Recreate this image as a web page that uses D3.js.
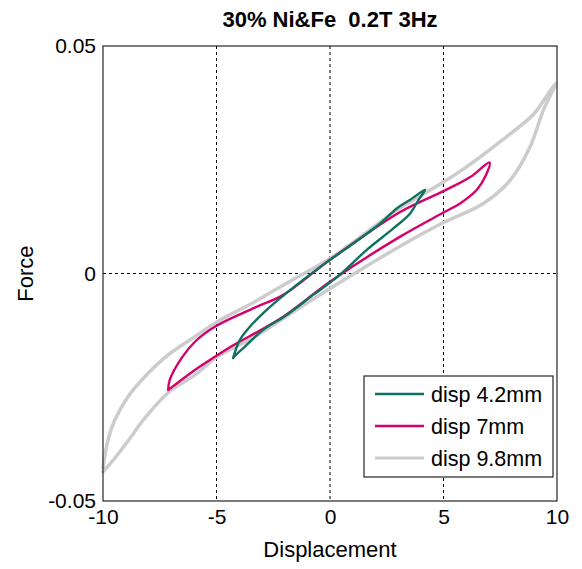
<!DOCTYPE html>
<html>
<head>
<meta charset="utf-8">
<script src="https://cdn.jsdelivr.net/npm/d3@7"></script>
<style>
  body { margin: 0; background: #fff; }
  text { font-family: Arial, "Liberation Sans", sans-serif; fill: #000; }
</style>
</head>
<body>
<div id="chart"></div>
<script>
// chart values
const chartTitle = "30% Ni&Fe  0.2T 3Hz";
const seriesNames = ["disp 4.2mm", "disp 7mm", "disp 9.8mm"];
const seriesColors = ["#0f7261", "#d5006d", "#cccccc"];
const xTicks = [-10, -5, 0, 5, 10];
const yTicks = [-0.05, 0, 0.05];

// disp 4.2mm loop (upper branch then lower branch)
const disp42X = [-4.27, -3.97, -3.53, -2.79, -1.47, 0, 1.03, 2.21, 2.94, 3.53, 4.19,
                 3.90, 3.53, 2.79, 1.62, 0.59, 0, -0.74, -1.91, -2.94, -3.82, -4.19, -4.27];
const disp42Y = [-0.0186, -0.0146, -0.0117, -0.0080, -0.0025, 0.0030, 0.0066, 0.0110, 0.0143, 0.0162, 0.0184,
                 0.0162, 0.0132, 0.0099, 0.0052, 0.0004, -0.0020, -0.0047, -0.0091, -0.0124, -0.0164, -0.0181, -0.0186];

// disp 7mm loop
const disp7X = [-7.13, -7.06, -6.54, -5.95, -5.0, -3.31, -2.06, 0, 3.09, 5.0, 6.18, 7.03,
                6.84, 6.47, 5.73, 5.0, 3.09, 0, -2.06, -4.41, -5.0, -5.95, -6.84, -7.13];
const disp7Y = [-0.0256, -0.0234, -0.0186, -0.0150, -0.0115, -0.0075, -0.0047, 0.0030, 0.0135, 0.0181, 0.0212, 0.0244,
                0.0213, 0.0184, 0.0154, 0.0134, 0.0081, -0.0018, -0.0095, -0.0162, -0.0181, -0.0212, -0.0245, -0.0256];

// disp 9.8mm loop
const disp98X = [-10.0, -9.78, -9.48, -8.90, -8.16, -7.13, -5.95, -5.0, -3.31, -1.76, 0, 3.09, 5.0, 6.03, 7.50, 8.97, 9.41, 9.95,
                 9.40, 8.82, 7.94, 6.76, 5.0, 3.09, 0, -1.76, -3.31, -5.0, -5.95, -7.13, -8.16, -8.90, -9.48, -10.0];
const disp98Y = [-0.0427, -0.0366, -0.0322, -0.0271, -0.0227, -0.0179, -0.0139, -0.0107, -0.0062, -0.0017, 0.0033, 0.0144, 0.0201, 0.0235, 0.0290, 0.0350, 0.0380, 0.0418,
                 0.0359, 0.0279, 0.0205, 0.0154, 0.0112, 0.0060, -0.0033, -0.0089, -0.0139, -0.0184, -0.0223, -0.0262, -0.0318, -0.0368, -0.0406, -0.0436];

const W = 582, H = 569;
const margin = { top: 46, right: 25, bottom: 68, left: 103 };

const svg = d3.select("#chart").append("svg")
    .attr("width", W)
    .attr("height", H);

const x = d3.scaleLinear().domain([-10, 10]).range([margin.left, W - margin.right]);
const y = d3.scaleLinear().domain([-0.05, 0.05]).range([H - margin.bottom, margin.top]);

// plain hyphen minus, as in the reference
const hy = s => s.replace("\u2212", "-");

// dashed grid
svg.append("g").selectAll("line")
    .data(xTicks.slice(1, -1))
    .join("line")
    .attr("x1", d => x(d)).attr("x2", d => x(d))
    .attr("y1", y(0.05)).attr("y2", y(-0.05))
    .attr("stroke", "#000").attr("stroke-width", 1)
    .attr("stroke-dasharray", "3,3");

svg.append("g").selectAll("line")
    .data(yTicks.slice(1, -1))
    .join("line")
    .attr("x1", x(-10)).attr("x2", x(10))
    .attr("y1", d => y(d)).attr("y2", d => y(d))
    .attr("stroke", "#000").attr("stroke-width", 1)
    .attr("stroke-dasharray", "3,3");

// loops, widest first
const line = d3.line()
    .x(d => x(d[0]))
    .y(d => y(d[1]))
    .curve(d3.curveCatmullRom.alpha(0.5));

const series = [
    { xs: disp98X, ys: disp98Y, color: seriesColors[2], w: 3.5 },
    { xs: disp7X, ys: disp7Y, color: seriesColors[1], w: 2.4 },
    { xs: disp42X, ys: disp42Y, color: seriesColors[0], w: 2.4 }
];

series.forEach(s => {
    svg.append("path")
        .datum(s.xs.map((v, i) => [v, s.ys[i]]))
        .attr("d", line)
        .attr("fill", "none")
        .attr("stroke", s.color)
        .attr("stroke-width", s.w)
        .attr("stroke-linejoin", "round")
        .attr("stroke-linecap", "round");
});

// axes box
svg.append("rect")
    .attr("x", x(-10)).attr("y", y(0.05))
    .attr("width", x(10) - x(-10))
    .attr("height", y(-0.05) - y(0.05))
    .attr("fill", "none")
    .attr("stroke", "#262626")
    .attr("stroke-width", 1.2);

// tick labels
const xAxis = svg.append("g")
    .attr("transform", `translate(0, ${y(-0.05)})`)
    .call(d3.axisBottom(x).tickValues(xTicks).tickSize(0).tickPadding(8)
        .tickFormat(d => hy(d3.format("d")(d))));
xAxis.select(".domain").remove();
xAxis.selectAll("text").style("font-size", "21px").attr("fill", "#000");

const yAxis = svg.append("g")
    .attr("transform", `translate(${x(-10)}, 0)`)
    .call(d3.axisLeft(y).tickValues(yTicks).tickSize(0).tickPadding(7)
        .tickFormat(d => d === 0 ? "0" : hy(d3.format(".2f")(d))));
yAxis.select(".domain").remove();
yAxis.selectAll("text").style("font-size", "21px").attr("fill", "#000");

// title and axis labels
svg.append("text")
    .attr("x", x(0)).attr("y", 27)
    .attr("text-anchor", "middle")
    .style("font-size", "22px")
    .style("font-weight", "bold")
    .style("white-space", "pre")
    .text(chartTitle);

svg.append("text")
    .attr("x", x(0)).attr("y", 557)
    .attr("text-anchor", "middle")
    .style("font-size", "22px")
    .text("Displacement");

svg.append("text")
    .attr("transform", `translate(33, ${y(0)}) rotate(-90)`)
    .attr("text-anchor", "middle")
    .style("font-size", "22px")
    .text("Force");

// legend
const legend = svg.append("g").attr("transform", "translate(364, 376)");
legend.append("rect")
    .attr("width", 189).attr("height", 101)
    .attr("fill", "#fff")
    .attr("stroke", "#262626")
    .attr("stroke-width", 1.2);

seriesNames.forEach((name, i) => {
    const ly = 18 + i * 32;
    legend.append("line")
        .attr("x1", 11).attr("x2", 60)
        .attr("y1", ly).attr("y2", ly)
        .attr("stroke", seriesColors[i])
        .attr("stroke-width", i === 2 ? 3 : 2.4);
    legend.append("text")
        .attr("x", 67).attr("y", ly)
        .attr("dy", "0.35em")
        .style("font-size", "21.5px")
        .text(name);
});
</script>
</body>
</html>
